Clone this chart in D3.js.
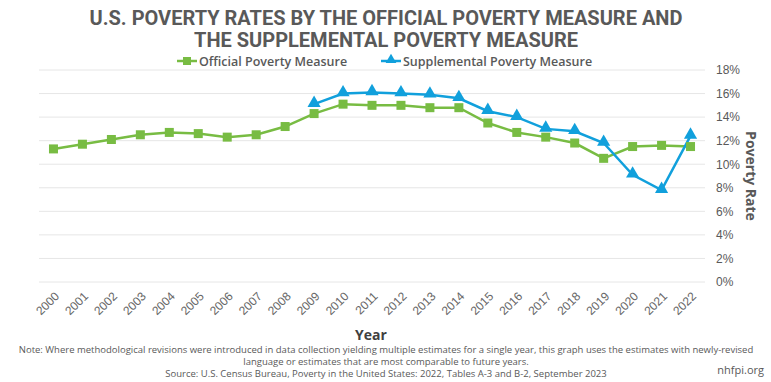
<!DOCTYPE html>
<html>
<head>
<meta charset="utf-8">
<script src="https://cdn.jsdelivr.net/npm/d3@7"></script>
<style>
  body { margin: 0; background: #fff; }
  svg { font-family: "Open Sans", sans-serif; }
</style>
</head>
<body>
<div id="chart"></div>
<script>
// data
var years = ["2000","2001","2002","2003","2004","2005","2006","2007","2008","2009","2010",
             "2011","2012","2013","2014","2015","2016","2017","2018","2019","2020","2021","2022"];
var official = [11.3, 11.7, 12.1, 12.5, 12.7, 12.6, 12.3, 12.5, 13.2, 14.3, 15.1,
                15.0, 15.0, 14.8, 14.8, 13.5, 12.7, 12.3, 11.8, 10.5, 11.5, 11.6, 11.5];
var supplementalYears = ["2009","2010","2011","2012","2013","2014","2015","2016","2017","2018","2019","2020","2021","2022"];
var supplemental = [15.1, 16.0, 16.1, 16.0, 15.9, 15.6, 14.5, 14.0, 13.0, 12.8, 11.8, 9.1, 7.8, 12.4];
var yTicks = [0, 2, 4, 6, 8, 10, 12, 14, 16, 18];

function drawChart() {
    var W = 771, H = 382;
    var plot = {left: 39, right: 705, top: 70, bottom: 282};
    var green = "#78bc43", blue = "#11a0dc", grey = "#595959";

    var svg = d3.select("#chart").append("svg")
        .attr("width", W)
        .attr("height", H);

    var x = d3.scalePoint().domain(years).range([plot.left, plot.right]).padding(0.5);
    var y = d3.scaleLinear().domain([0, 18]).range([plot.bottom, plot.top]);

    // title
    svg.append("text").attr("x", 386).attr("y", 25)
        .attr("text-anchor", "middle").attr("font-size", 20).attr("font-weight", "bold")
        .attr("fill", grey).attr("font-family", "Roboto, sans-serif")
        .text("U.S. POVERTY RATES BY THE OFFICIAL POVERTY MEASURE AND");
    svg.append("text").attr("x", 386).attr("y", 47)
        .attr("text-anchor", "middle").attr("font-size", 20).attr("font-weight", "bold")
        .attr("fill", grey).attr("font-family", "Roboto, sans-serif")
        .text("THE SUPPLEMENTAL POVERTY MEASURE");

    // gridlines
    svg.append("g").selectAll("line")
        .data(yTicks)
        .enter().append("line")
        .attr("x1", plot.left).attr("x2", plot.right)
        .attr("y1", function (d) { return y(d); })
        .attr("y2", function (d) { return y(d); })
        .attr("stroke", "#e6e6e6").attr("stroke-width", 1);

    // right y axis
    var yAxis = svg.append("g")
        .attr("transform", "translate(" + (plot.right + 6) + ",0)")
        .call(d3.axisRight(y).tickValues(yTicks).tickSize(0).tickFormat(function (d) { return d + "%"; }));
    yAxis.select(".domain").remove();
    yAxis.selectAll("text").attr("font-size", 12).attr("fill", grey).attr("x", 5);

    svg.append("text")
        .attr("transform", "translate(746,176) rotate(90)")
        .attr("text-anchor", "middle").attr("font-size", 14).attr("font-weight", "bold")
        .attr("fill", grey)
        .text("Poverty Rate");

    // x axis
    var xAxis = svg.append("g")
        .attr("transform", "translate(0," + plot.bottom + ")")
        .call(d3.axisBottom(x).tickSize(0));
    xAxis.select(".domain").remove();
    xAxis.selectAll("text")
        .attr("font-size", 12).attr("fill", "#666")
        .attr("text-anchor", "end")
        .attr("y", 0).attr("dy", "0.35em")
        .attr("transform", "translate(3,12) rotate(-45)");

    svg.append("text").attr("x", 371).attr("y", 340)
        .attr("text-anchor", "middle").attr("font-size", 14).attr("font-weight", "bold")
        .attr("fill", "#404040").text("Year");

    // lines
    var line = d3.line()
        .x(function (d) { return x(d.year); })
        .y(function (d) { return y(d.value); });

    var offData = years.map(function (yr, i) { return {year: yr, value: official[i]}; });
    var supData = supplementalYears.map(function (yr, i) { return {year: yr, value: supplemental[i]}; });

    svg.append("path").datum(offData)
        .attr("d", line).attr("fill", "none").attr("stroke", green).attr("stroke-width", 2.5);
    svg.append("path").datum(supData)
        .attr("d", line).attr("fill", "none").attr("stroke", blue).attr("stroke-width", 2.5);

    svg.append("g").selectAll("rect")
        .data(offData)
        .enter().append("rect")
        .attr("x", function (d) { return x(d.year) - 4.5; })
        .attr("y", function (d) { return y(d.value) - 4.5; })
        .attr("width", 9).attr("height", 9)
        .attr("fill", green);

    var tri = d3.symbol().type(d3.symbolTriangle).size(75);
    svg.append("g").selectAll("path")
        .data(supData)
        .enter().append("path")
        .attr("d", tri)
        .attr("transform", function (d) { return "translate(" + x(d.year) + "," + (y(d.value) - 1) + ")"; })
        .attr("fill", blue);

    // legend
    var legend = [
        {name: "Official Poverty Measure", color: green, x: 177, shape: "square"},
        {name: "Supplemental Poverty Measure", color: blue, x: 381, shape: "triangle"}
    ];
    var lg = svg.append("g").selectAll("g").data(legend).enter().append("g")
        .attr("transform", function (d) { return "translate(" + d.x + ",61)"; });
    lg.append("line").attr("x1", 0).attr("x2", 20).attr("stroke", function (d) { return d.color; })
        .attr("stroke-width", 2.5);
    lg.each(function (d) {
        var g = d3.select(this);
        if (d.shape === "square") {
            g.append("rect").attr("x", 6).attr("y", -4).attr("width", 8).attr("height", 8).attr("fill", d.color);
        } else {
            g.append("path").attr("d", d3.symbol().type(d3.symbolTriangle).size(50))
                .attr("transform", "translate(10,-1)").attr("fill", d.color);
        }
    });
    lg.append("text").attr("x", 22).attr("y", 4.5)
        .attr("font-size", 12.5).attr("font-weight", 600).attr("fill", grey)
        .text(function (d) { return d.name; });

    // notes
    var notes = [
        "Note: Where methodological revisions were introduced in data collection yielding multiple estimates for a single year, this graph uses the estimates with newly-revised",
        "language or estimates that are most comparable to future years.",
        "Source: U.S. Census Bureau, Poverty in the United States: 2022, Tables A-3 and B-2, September 2023"
    ];
    svg.append("g").selectAll("text").data(notes).enter().append("text")
        .attr("x", 386).attr("y", function (d, i) { return 353 + i * 12; })
        .attr("text-anchor", "middle").attr("font-size", 9.5).attr("fill", grey)
        .text(function (d) { return d; });

    svg.append("text").attr("x", 764).attr("y", 374).attr("text-anchor", "end")
        .attr("font-size", 11).attr("fill", grey).text("nhfpi.org");
}

drawChart();
</script>
</body>
</html>
